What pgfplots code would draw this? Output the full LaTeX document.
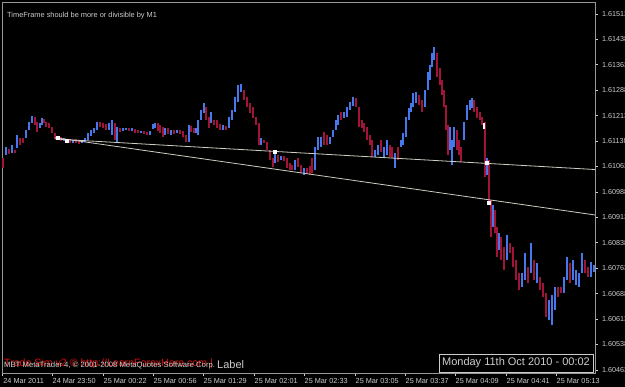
\documentclass[border=0pt]{standalone}
\usepackage{pgfplots}
\pgfplotsset{compat=1.18}
\usepackage{pgfplotstable}
\usepackage{fontspec}
\setmainfont{Liberation Sans}
\definecolor{cblue}{RGB}{70,120,235}
\definecolor{cred}{RGB}{160,20,55}
\definecolor{tline}{RGB}{205,205,195}
\definecolor{lab}{RGB}{205,205,205}
\definecolor{frame}{RGB}{150,150,150}

\pgfplotstableread{
x hi lo
6 1.61120 1.61097
12 1.61126 1.61103
17 1.61156 1.61117
26 1.61170 1.61147
29 1.61194 1.61170
32 1.61212 1.61191
40 1.61191 1.61176
42 1.61206 1.61185
64 1.61147 1.61138
73 1.61141 1.61132
82 1.61141 1.61132
85 1.61147 1.61135
88 1.61162 1.61141
91 1.61170 1.61153
94 1.61176 1.61162
97 1.61194 1.61170
109 1.61191 1.61170
112 1.61200 1.61156
117 1.61179 1.61135
123 1.61176 1.61168
126 1.61176 1.61170
132 1.61176 1.61168
141 1.61168 1.61162
150 1.61168 1.61156
153 1.61188 1.61173
155 1.61191 1.61176
165 1.61176 1.61156
171 1.61170 1.61156
177 1.61170 1.61162
189 1.61185 1.61135
196 1.61176 1.61162
198 1.61200 1.61156
201 1.61230 1.61200
204 1.61250 1.61221
211 1.61224 1.61191
223 1.61185 1.61170
229 1.61209 1.61176
232 1.61230 1.61200
235 1.61268 1.61224
238 1.61303 1.61253
241 1.61306 1.61283
261 1.61147 1.61126
275 1.61112 1.61073
281 1.61094 1.61082
295 1.61082 1.61053
304 1.61058 1.61038
315 1.61120 1.61053
318 1.61150 1.61112
321 1.61150 1.61120
330 1.61150 1.61129
333 1.61170 1.61150
336 1.61200 1.61170
338 1.61215 1.61185
344 1.61224 1.61206
347 1.61238 1.61209
350 1.61253 1.61230
353 1.61268 1.61241
375 1.61112 1.61091
378 1.61126 1.61097
384 1.61120 1.61091
387 1.61141 1.61097
395 1.61103 1.61058
401 1.61141 1.61120
403 1.61162 1.61126
406 1.61209 1.61150
409 1.61235 1.61200
411 1.61250 1.61224
413 1.61280 1.61238
416 1.61283 1.61250
425 1.61289 1.61238
428 1.61342 1.61289
430 1.61362 1.61318
432 1.61398 1.61356
434 1.61415 1.61377
450 1.61179 1.61112
452 1.61141 1.61067
454 1.61179 1.61120
464 1.61194 1.61141
467 1.61244 1.61200
470 1.61259 1.61230
472 1.61265 1.61235
487 1.61088 1.61038
493 1.60949 1.60884
499 1.60867 1.60817
507 1.60861 1.60787
522 1.60749 1.60707
525 1.60808 1.60728
531 1.60837 1.60749
537 1.60778 1.60719
549 1.60669 1.60610
552 1.60684 1.60595
555 1.60707 1.60640
564 1.60737 1.60690
567 1.60796 1.60728
573 1.60787 1.60728
576 1.60758 1.60713
579 1.60749 1.60707
582 1.60808 1.60749
591 1.60781 1.60737
594 1.60772 1.60752
}\upbars

\pgfplotstableread{
x hi lo
3 1.61088 1.61058
9 1.61114 1.61100
15 1.61112 1.61103
20 1.61147 1.61126
23 1.61147 1.61132
35 1.61209 1.61185
37 1.61194 1.61165
44 1.61203 1.61191
46 1.61194 1.61179
49 1.61191 1.61176
52 1.61179 1.61162
55 1.61162 1.61144
58 1.61153 1.61141
61 1.61150 1.61138
67 1.61144 1.61132
70 1.61144 1.61132
76 1.61144 1.61132
79 1.61141 1.61129
100 1.61194 1.61179
103 1.61191 1.61176
106 1.61188 1.61170
115 1.61191 1.61141
120 1.61176 1.61165
129 1.61176 1.61168
135 1.61173 1.61162
138 1.61170 1.61162
144 1.61168 1.61159
147 1.61165 1.61156
158 1.61191 1.61168
160 1.61185 1.61162
163 1.61179 1.61150
168 1.61176 1.61159
174 1.61170 1.61159
180 1.61170 1.61159
183 1.61168 1.61150
186 1.61156 1.61135
191 1.61182 1.61165
194 1.61176 1.61162
206 1.61238 1.61200
209 1.61209 1.61176
214 1.61200 1.61185
217 1.61200 1.61176
220 1.61188 1.61170
226 1.61182 1.61170
244 1.61289 1.61259
247 1.61268 1.61238
250 1.61250 1.61221
253 1.61238 1.61206
256 1.61209 1.61185
259 1.61191 1.61126
264 1.61141 1.61132
267 1.61135 1.61112
270 1.61112 1.61082
273 1.61088 1.61061
278 1.61097 1.61076
284 1.61094 1.61079
287 1.61088 1.61058
290 1.61073 1.61053
292 1.61067 1.61053
298 1.61088 1.61061
301 1.61067 1.61044
307 1.61058 1.61041
310 1.61064 1.61038
312 1.61088 1.61044
324 1.61165 1.61126
327 1.61156 1.61126
341 1.61224 1.61200
356 1.61265 1.61238
359 1.61238 1.61179
362 1.61200 1.61176
364 1.61191 1.61165
367 1.61179 1.61141
370 1.61156 1.61126
372 1.61141 1.61091
381 1.61141 1.61106
390 1.61126 1.61091
392 1.61120 1.61088
398 1.61120 1.61082
419 1.61274 1.61244
422 1.61259 1.61224
437 1.61398 1.61327
440 1.61353 1.61303
442 1.61318 1.61274
444 1.61289 1.61238
446 1.61244 1.61170
448 1.61185 1.61097
457 1.61170 1.61112
459 1.61141 1.61097
461 1.61120 1.61076
474 1.61259 1.61224
477 1.61238 1.61206
480 1.61224 1.61200
482 1.61209 1.61185
485 1.61194 1.61032
489 1.61082 1.60955
491 1.60964 1.60855
495 1.60935 1.60867
497 1.60884 1.60796
501 1.60855 1.60787
504 1.60825 1.60758
510 1.60837 1.60808
513 1.60825 1.60766
516 1.60787 1.60728
519 1.60749 1.60699
528 1.60766 1.60719
534 1.60787 1.60728
540 1.60737 1.60699
543 1.60719 1.60678
546 1.60690 1.60619
558 1.60707 1.60678
561 1.60707 1.60690
570 1.60778 1.60719
585 1.60787 1.60749
588 1.60766 1.60737
}\downbars

\begin{document}
\begin{tikzpicture}[x=1pt,y=1pt]
\fill[black] (0,0) rectangle (625,387);
\useasboundingbox (0,0) rectangle (625,387);
\begin{axis}[
  at={(2pt,14pt)}, anchor=south west,
  scale only axis, width=593pt, height=371pt,
  xmin=2, xmax=595, ymin=1.60454, ymax=1.61548,
  axis line style={draw=frame, line width=0.8pt},
  tick align=outside, major tick length=3pt,
  tick style={draw=lab, line width=0.6pt},
  xtick pos=lower, ytick pos=right, yticklabel pos=right,
  xtick={2.7,52,103,153,203,254,304,355,405,455,506,556},
  xticklabels={24 Mar 2011,24 Mar 23:50,25 Mar 00:22,25 Mar 00:56,25 Mar 01:29,25 Mar 02:01,25 Mar 02:33,25 Mar 03:05,25 Mar 03:37,25 Mar 04:09,25 Mar 04:41,25 Mar 05:13},
  ytick={1.60463,1.60538,1.60613,1.60688,1.60763,1.60838,1.60913,1.60988,1.61063,1.61138,1.61213,1.61288,1.61363,1.61438,1.61513},
  yticklabels={1.60463,1.60538,1.60613,1.60688,1.60763,1.60838,1.60913,1.60988,1.61063,1.61138,1.61213,1.61288,1.61363,1.61438,1.61513},
  xticklabel style={anchor=north west, inner sep=0pt, xshift=0.5pt, yshift=-2pt, text=lab, font=\fontsize{7.3}{8}\selectfont},
  yticklabel style={anchor=west, inner sep=0pt, xshift=4pt, text=lab, font=\fontsize{7.2}{8}\selectfont},
  scaled y ticks=false,
]
\addplot[draw=none, mark=none, forget plot,
  error bars/.cd, y dir=plus, y explicit, error mark=none,
  error bar style={draw=cblue, line width=2.7pt, line cap=butt}]
  table[x=x, y=lo, y error plus expr=\thisrow{hi}-\thisrow{lo}] {\upbars};
\addplot[draw=none, mark=none, forget plot,
  error bars/.cd, y dir=plus, y explicit, error mark=none,
  error bar style={draw=cred, line width=2.7pt, line cap=butt}]
  table[x=x, y=lo, y error plus expr=\thisrow{hi}-\thisrow{lo}] {\downbars};
% trend lines
\addplot[tline, line width=0.8pt] coordinates {(55,1.61144) (595,1.61054)};
\addplot[tline, line width=0.8pt] coordinates {(55,1.61148) (595,1.60920)};
% trade markers
\addplot[only marks, mark=square*, mark size=1.4pt, mark options={fill=white, draw=white}]
  coordinates {(58,1.61147) (67,1.61138) (275,1.61106) (487,1.61073) (489,1.60955)};
\addplot[white, line width=1.4pt] coordinates {(484,1.61191) (484,1.61173)};
\addplot[white, line width=2pt, clip=false] coordinates {(596,1.61224) (596,1.61132)};
\end{axis}
\node[anchor=west, text=lab, inner sep=0pt, font=\fontsize{7.4}{9}\selectfont] at (7,371) {TimeFrame should be more or divisible by M1};
\node[anchor=west, text={rgb,255:red,215;green,15;blue,15}, inner sep=0pt, font=\fontsize{10.6}{12}\selectfont] at (4,23) {Trade Sim v2 © http://LearnForexHere.com |};
\node[anchor=west, text=lab, inner sep=0pt, font=\fontsize{7.7}{9}\selectfont] at (4,21) {MBT MetaTrader 4, © 2001-2008 MetaQuotes Software Corp.};
\node[anchor=west, text=lab, inner sep=0pt, font=\fontsize{11}{12}\selectfont] at (217,22) {Label};
\draw[lab, line width=0.7pt] (439,15) rectangle (593,33);
\node[text=lab, inner sep=0pt, font=\fontsize{11}{12}\selectfont] at (516,24) {Monday 11th Oct 2010 - 00:02};
\end{tikzpicture}
\end{document}
